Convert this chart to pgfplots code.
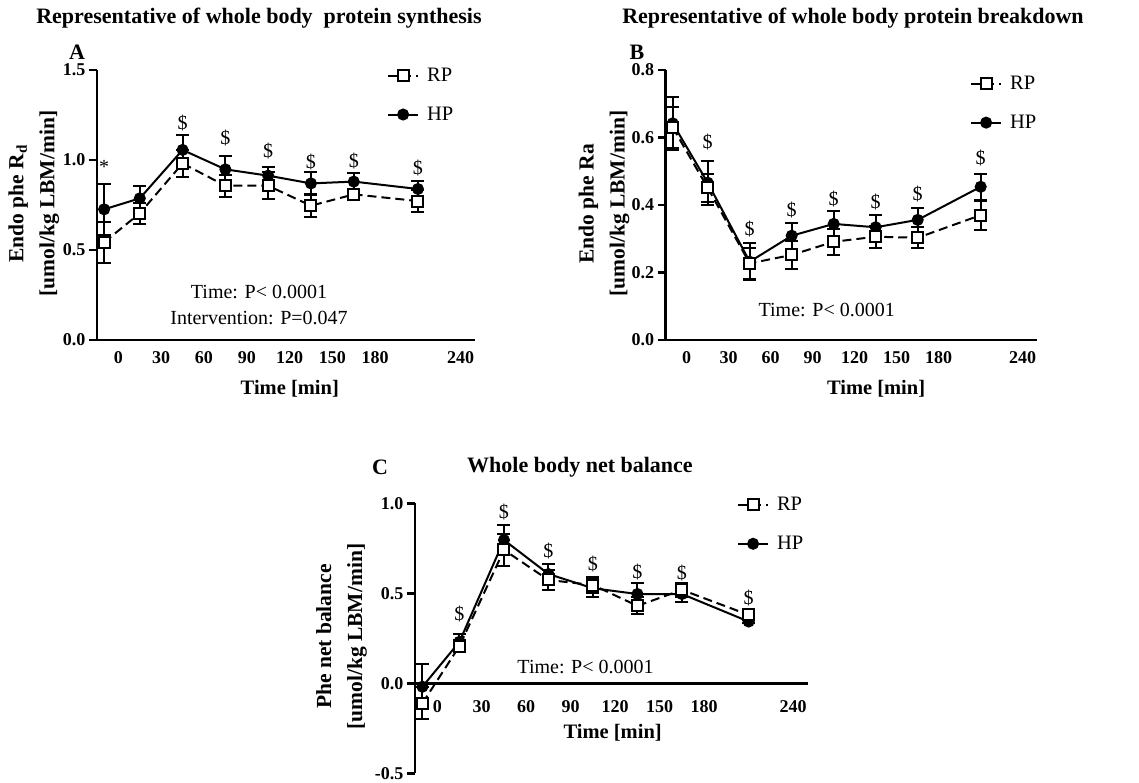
\documentclass[border=0pt]{standalone}
\usepackage{fontspec}
\setmainfont{Liberation Serif}
\usepackage{pgfplots}
\usepackage{pgfplotstable}
\pgfplotsset{compat=1.18}

\newcommand\fa{\fontsize{20bp}{24bp}\selectfont}
\newcommand\ft{\fontsize{22bp}{26bp}\selectfont\bfseries}
\tikzset{lblfont/.style={font=\fontsize{20.5bp}{24bp}\selectfont\bfseries}}

\pgfplotstableread{
x y e
-10 0.543 0.113
15 0.704 0.058
45 0.981 0.074
75 0.857 0.061
105 0.857 0.076
135 0.746 0.065
165 0.809 0.031
210 0.772 0.061
}\ARP
\pgfplotstableread{
x y e
-10 0.726 0.143
15 0.787 0.070
45 1.056 0.083
75 0.948 0.074
105 0.913 0.050
135 0.870 0.063
165 0.880 0.046
210 0.839 0.044
}\AHP
\pgfplotstableread{
x y e
-10 0.630 0.060
15 0.451 0.042
45 0.227 0.047
75 0.252 0.042
105 0.291 0.038
135 0.306 0.032
165 0.303 0.031
210 0.370 0.043
}\BRP
\pgfplotstableread{
x y e
-10 0.642 0.079
15 0.466 0.065
45 0.232 0.054
75 0.309 0.039
105 0.344 0.038
135 0.334 0.036
165 0.356 0.036
210 0.454 0.039
}\BHP
\pgfplotstableread{
x y e
-10 -0.111 0.089
15 0.207 0.035
45 0.741 0.089
75 0.574 0.055
105 0.546 0.045
135 0.430 0.047
165 0.519 0.040
210 0.380 0.015
}\CRP
\pgfplotstableread{
x y e
-10 -0.019 0.125
15 0.231 0.045
45 0.796 0.082
75 0.607 0.056
105 0.528 0.050
135 0.496 0.060
165 0.496 0.047
210 0.343 0.010
}\CHP

\pgfplotsset{
  myaxis/.style={
    scale only axis, clip=false,
    axis x line=bottom, axis y line=left,
    axis line style={line width=2.5bp, -},
    xmin=-15, xmax=250,
    xtick={0,30,60,90,120,150,180,240},
    xticklabels={0,30,60,90,120,150,180,240},
    x tick style={draw=none},
    y tick style={line width=2.5bp, black},
    tick align=outside, major tick length=8bp,
    tick label style={font=\fontsize{18bp}{20bp}\selectfont\bfseries},
    xlabel style={lblfont, anchor=center},
    ylabel style={font=\fontsize{21.5bp}{31bp}\selectfont\bfseries, align=center, anchor=center},
    hide obscured x ticks=false, hide obscured y ticks=false,
    reverse legend,
    legend style={draw=none, fill=none, anchor=north west, inner sep=0pt,
      font=\fontsize{20.5bp}{24bp}\selectfont, row sep=20bp, column sep=6bp,
      nodes={inner sep=2bp}},
    legend image code/.code={\draw[mark repeat=2,mark phase=2,##1] plot coordinates {(0bp,0bp) (15bp,0bp) (30bp,0bp)};},
    legend cell align=left,
  },
  hp/.style={black, line width=2bp, mark=*, mark size=5bp, mark options={solid},
    error bars/.cd, y dir=both, y explicit,
    error bar style={line width=2bp, solid},
    error mark options={rotate=90, mark size=6.5bp, line width=2bp}},
  rp/.style={black, line width=2bp, dash pattern=on 9bp off 5bp, mark=square*, mark size=5.5bp,
    mark options={solid, fill=white},
    error bars/.cd, y dir=both, y explicit,
    error bar style={line width=2bp, solid},
    error mark options={rotate=90, mark size=6.5bp, line width=2bp}},
}

\begin{document}
\begin{tikzpicture}
\path[use as bounding box] (0bp,0bp) rectangle (1139bp,-783bp);

% Panel A
\begin{axis}[myaxis, at={(97bp,-340bp)}, anchor=south west, width=378bp, height=270bp,
  ymin=0, ymax=1.5, ytick={0,0.5,1,1.5}, yticklabels={0.0,0.5,1.0,1.5},
  xlabel={Time [min]}, xlabel style={at={(axis description cs:0.51,-0.18)}},
  ylabel={Endo phe R\textsubscript{d}\\{[umol/kg LBM/min]}},
  ylabel style={at={(axis description cs:-0.167,0.505)}},
  legend style={at={(axis description cs:0.767,1.015)}}]
\addplot[hp] table[x=x,y=y,y error=e] {\AHP};
\addplot[rp] table[x=x,y=y,y error=e] {\ARP};
\legend{HP,RP}
\node[font=\fa] at (axis cs:-10,0.96) {*};
\node[font=\fa] at (axis cs:45,1.204) {\$};
\node[font=\fa] at (axis cs:75,1.12) {\$};
\node[font=\fa] at (axis cs:105,1.052) {\$};
\node[font=\fa] at (axis cs:135,0.99) {\$};
\node[font=\fa] at (axis cs:165,0.994) {\$};
\node[font=\fa] at (axis cs:210,0.954) {\$};
\node[font=\fa] at (axis cs:98.6,0.268) {Time: P< 0.0001};
\node[font=\fa] at (axis cs:98.6,0.122) {Intervention: P=0.047};
\end{axis}

% Panel B
\begin{axis}[myaxis, at={(665.7bp,-340bp)}, anchor=south west, width=371bp, height=270bp,
  ymin=0, ymax=0.8, ytick={0,0.2,0.4,0.6,0.8}, yticklabels={0.0,0.2,0.4,0.6,0.8},
  xlabel={Time [min]}, xlabel style={at={(axis description cs:0.567,-0.18)}},
  ylabel={Endo phe Ra\\{[umol/kg LBM/min]}},
  ylabel style={at={(axis description cs:-0.166,0.505)}},
  legend style={at={(axis description cs:0.82,0.985)}}]
\addplot[hp] table[x=x,y=y,y error=e] {\BHP};
\addplot[rp] table[x=x,y=y,y error=e] {\BRP};
\legend{HP,RP}
\node[font=\fa] at (axis cs:15,0.588) {\$};
\node[font=\fa] at (axis cs:45,0.328) {\$};
\node[font=\fa] at (axis cs:75,0.385) {\$};
\node[font=\fa] at (axis cs:105,0.417) {\$};
\node[font=\fa] at (axis cs:135,0.41) {\$};
\node[font=\fa] at (axis cs:165,0.432) {\$};
\node[font=\fa] at (axis cs:210,0.54) {\$};
\node[font=\fa] at (axis cs:100,0.089) {Time: P< 0.0001};
\end{axis}

% Panel C
\begin{axis}[myaxis, at={(415bp,-773.3bp)}, anchor=south west, width=393bp, height=270bp,
  axis x line=middle,
  x axis line style={-}, axis line style={line width=2.5bp, -},
  x tick label style={yshift=-10bp},
  ymin=-0.5, ymax=1.0, ytick={-0.5,0,0.5,1}, yticklabels={-0.5,0.0,0.5,1.0},
  xlabel={Time [min]}, xlabel style={lblfont, anchor=center, at={(axis description cs:0.503,0.149)}},
  ylabel={Phe net balance\\{[umol/kg LBM/min]}},
  ylabel style={at={(axis description cs:-0.187,0.506)}},
  legend style={at={(axis description cs:0.819,1.03)}}]
\addplot[hp] table[x=x,y=y,y error=e] {\CHP};
\addplot[rp] table[x=x,y=y,y error=e] {\CRP};
\legend{HP,RP}
\node[font=\fa] at (axis cs:15,0.385) {\$};
\node[font=\fa] at (axis cs:45,0.95) {\$};
\node[font=\fa] at (axis cs:75,0.735) {\$};
\node[font=\fa] at (axis cs:105,0.663) {\$};
\node[font=\fa] at (axis cs:135,0.617) {\$};
\node[font=\fa] at (axis cs:165,0.611) {\$};
\node[font=\fa] at (axis cs:210,0.472) {\$};
\node[font=\fa] at (axis cs:100,0.092) {Time: P< 0.0001};
\end{axis}

% Titles and panel letters
\node[font=\ft] at (259bp,-18bp) {Representative of whole body~ protein synthesis};
\node[font=\ft] at (853bp,-18bp) {Representative of whole body protein breakdown};
\node[font=\ft] at (77bp,-52bp) {A};
\node[font=\ft] at (637bp,-52bp) {B};
\node[font=\ft] at (380bp,-467bp) {C};
\node[font=\ft] at (580bp,-467bp) {Whole body net balance};
\end{tikzpicture}
\end{document}
